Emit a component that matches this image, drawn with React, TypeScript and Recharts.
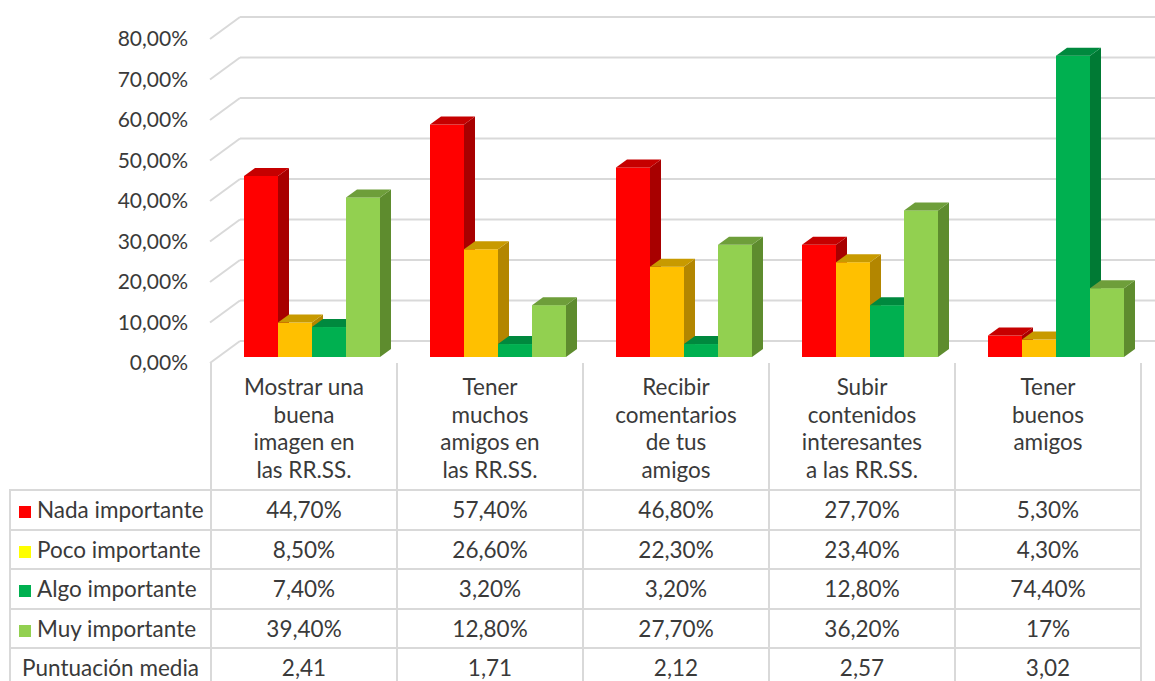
import { Bar, BarChart, CartesianGrid, XAxis, YAxis } from "recharts";

const categories = [
  ["Mostrar una", "buena", "imagen en", "las RR.SS."],
  ["Tener", "muchos", "amigos en", "las RR.SS."],
  ["Recibir", "comentarios", "de tus", "amigos"],
  ["Subir", "contenidos", "interesantes", "a las RR.SS."],
  ["Tener", "buenos", "amigos"],
];

const nada = [44.7, 57.4, 46.8, 27.7, 5.3];
const poco = [8.5, 26.6, 22.3, 23.4, 4.3];
const algo = [7.4, 3.2, 3.2, 12.8, 74.4];
const muy = [39.4, 12.8, 27.7, 36.2, 17];
const media = ["2,41", "1,71", "2,12", "2,57", "3,02"];
const pctLabels = [
  ["44,70%", "57,40%", "46,80%", "27,70%", "5,30%"],
  ["8,50%", "26,60%", "22,30%", "23,40%", "4,30%"],
  ["7,40%", "3,20%", "3,20%", "12,80%", "74,40%"],
  ["39,40%", "12,80%", "27,70%", "36,20%", "17%"],
];
const yTicks = [0, 10, 20, 30, 40, 50, 60, 70, 80];

const series = [
  { key: "nada", name: "Nada importante", front: "#FF0000", side: "#A80000", top: "#C60000", legend: "#FF0000" },
  { key: "poco", name: "Poco importante", front: "#FFC000", side: "#B38600", top: "#C89A00", legend: "#FFFF00" },
  { key: "algo", name: "Algo importante", front: "#00B050", side: "#007A34", top: "#00893E", legend: "#00B050" },
  { key: "muy", name: "Muy importante", front: "#92D050", side: "#5E8C2E", top: "#6E9E3A", legend: "#92D050" },
];

const data = categories.map((c, i) => ({
  cat: c.join(" "),
  nada: nada[i],
  poco: poco[i],
  algo: algo[i],
  muy: muy[i],
}));

const FONT = "Lato, 'Open Sans', sans-serif";
const TEXT = "#3A3A3A";
const GRID = "#D9D9D9";
const PLOT_LEFT = 210;
const DX = 11; // profundidad de la barra
const DY = 8;
const SHIFT = 9;

function make3DBar(s: { front: string; side: string; top: string }) {
  return (props: any) => {
    const { x, y, width, height } = props;
    if (height == null || width == null) return null;
    const fx = x + SHIFT;
    const r = fx + width;
    const b = y + height;
    return (
      <g>
        <rect x={fx} y={y} width={width} height={height} fill={s.front} />
        <polygon points={`${r},${y} ${r + DX},${y - DY} ${r + DX},${b - DY} ${r},${b}`} fill={s.side} />
        <polygon points={`${fx},${y} ${fx + DX},${y - DY} ${r + DX},${y - DY} ${r},${y}`} fill={s.top} />
      </g>
    );
  };
}

function GridLine(props: any) {
  const { y1, x2 } = props;
  return (
    <g key={`g-${y1}`}>
      <line x1={PLOT_LEFT} y1={y1 + 6} x2={PLOT_LEFT + 30} y2={y1 - 16} stroke={GRID} strokeWidth={2} />
      <line x1={PLOT_LEFT + 30} y1={y1 - 16} x2={x2 + 15} y2={y1 - 16} stroke={GRID} strokeWidth={2} />
    </g>
  );
}

function YTick({ y, payload }: any) {
  const label = `${payload.value.toFixed(2).replace(".", ",")}%`;
  return (
    <text x={PLOT_LEFT - 22} y={y + 6} dy="0.35em" textAnchor="end" fill={TEXT} fontSize={21} fontFamily={FONT}>
      {label}
    </text>
  );
}

const cell = { border: `2px solid ${GRID}`, padding: 0 };

export default function App() {
  return (
    <div style={{ position: "absolute", left: 0, top: 0, width: 1155, height: 681, overflow: "hidden", background: "#fff", fontFamily: FONT }}>
      <BarChart
        width={1155}
        height={390}
        data={data}
        margin={{ top: 33, right: 15, bottom: 33, left: 10 }}
        barGap={0}
        barSize={34}
      >
        <CartesianGrid vertical={false} horizontal={GridLine} />
        <XAxis dataKey="cat" hide />
        <YAxis width={200} domain={[0, 80]} ticks={yTicks} tick={YTick} axisLine={false} tickLine={false} />
        {series.map((s) => (
          <Bar key={s.key} dataKey={s.key} name={s.name} shape={make3DBar(s)} isAnimationActive={false} />
        ))}
      </BarChart>
      <table
        style={{
          position: "absolute",
          left: 9,
          top: 363,
          borderCollapse: "collapse",
          tableLayout: "fixed",
          width: 1131,
          color: TEXT,
          fontSize: 22.5,
        }}
      >
        <colgroup>
          <col style={{ width: 201 }} />
          {categories.map((_, i) => (
            <col key={i} style={{ width: 186 }} />
          ))}
        </colgroup>
        <tbody>
          <tr style={{ height: 127 }}>
            <td style={{ padding: 0 }} />
            {categories.map((c, i) => (
              <td
                key={i}
                style={{
                  borderLeft: `2px solid ${GRID}`,
                  borderRight: `2px solid ${GRID}`,
                  verticalAlign: "top",
                  textAlign: "center",
                  paddingTop: 10,
                  lineHeight: "27.5px",
                }}
              >
                {c.map((line, j) => (
                  <div key={j}>{line}</div>
                ))}
              </td>
            ))}
          </tr>
          {series.map((s, r) => (
            <tr key={s.key} style={{ height: 39.5 }}>
              <td style={{ ...cell, paddingLeft: 8, whiteSpace: "nowrap" }}>
                <span style={{ display: "inline-block", width: 12, height: 12, background: s.legend, marginRight: 6 }} />
                {s.name}
              </td>
              {pctLabels[r].map((v, i) => (
                <td key={i} style={{ ...cell, textAlign: "center" }}>
                  {v}
                </td>
              ))}
            </tr>
          ))}
          <tr style={{ height: 39.5 }}>
            <td style={{ ...cell, textAlign: "center" }}>Puntuación media</td>
            {media.map((v, i) => (
              <td key={i} style={{ ...cell, textAlign: "center" }}>
                {v}
              </td>
            ))}
          </tr>
        </tbody>
      </table>
    </div>
  );
}
